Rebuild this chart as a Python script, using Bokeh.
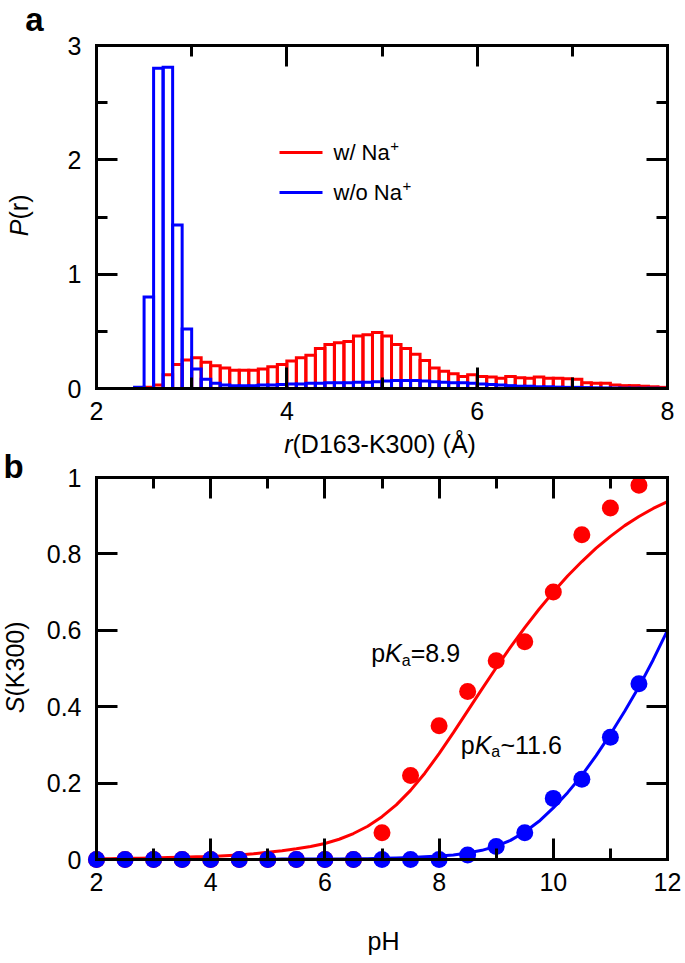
import math
from bokeh.plotting import figure
from bokeh.models import Range1d, LinearAxis, FixedTicker, Label
from bokeh.embed import file_html
from bokeh.resources import INLINE

FONT = "Liberation Sans"
RED = "#ff0000"
BLUE = "#0000ff"

# ---------------- panel a data: P(r) histograms ----------------
r_bin_left = [2.4, 2.5, 2.6, 2.7, 2.8, 2.9, 3.0, 3.1, 3.2, 3.3,
              3.4, 3.5, 3.6, 3.7, 3.8, 3.9, 4.0, 4.1, 4.2, 4.3,
              4.4, 4.5, 4.6, 4.7, 4.8, 4.9, 5.0, 5.1, 5.2, 5.3,
              5.4, 5.5, 5.6, 5.7, 5.8, 5.9, 6.0, 6.1, 6.2, 6.3,
              6.4, 6.5, 6.6, 6.7, 6.8, 6.9, 7.0, 7.1, 7.2, 7.3,
              7.4, 7.5, 7.6, 7.7, 7.8, 7.9]
r_bin_width = 0.1
p_with_na = [0.00, 0.01, 0.03, 0.12, 0.21, 0.25, 0.27, 0.23, 0.20, 0.18,
             0.16, 0.16, 0.16, 0.17, 0.19, 0.21, 0.24, 0.27, 0.29, 0.35,
             0.385, 0.40, 0.41, 0.46, 0.47, 0.49, 0.46, 0.385, 0.35, 0.30,
             0.245, 0.18, 0.15, 0.13, 0.105, 0.12, 0.105, 0.10, 0.09, 0.105,
             0.095, 0.09, 0.10, 0.09, 0.09, 0.085, 0.08, 0.05, 0.045, 0.045,
             0.03, 0.025, 0.025, 0.02, 0.015, 0.01]
p_without_na = [0.01, 0.80, 2.80, 2.81, 1.43, 0.52, 0.17, 0.08, 0.045, 0.03,
                0.025, 0.025, 0.025, 0.03, 0.03, 0.035, 0.04, 0.04, 0.045, 0.045,
                0.05, 0.05, 0.05, 0.055, 0.055, 0.06, 0.065, 0.07, 0.07, 0.07,
                0.065, 0.06, 0.055, 0.05, 0.05, 0.045, 0.04, 0.035, 0.03, 0.025,
                0.02, 0.02, 0.015, 0.015, 0.012, 0.01, 0.01, 0.008, 0.006, 0.005,
                0.004, 0.003, 0.003, 0.002, 0.002, 0.001]
a_xticks = [2, 4, 6, 8]
a_xminor = [3, 5, 7]
a_xlabels = ["2", "4", "6", "8"]
a_yticks = [0, 1, 2, 3]
a_yminor = [0.5, 1.5, 2.5]
a_ylabels = ["0", "1", "2", "3"]
legend_labels = ["w/ Na", "w/o Na"]
legend_sup = "+"

# ---------------- panel b data: S(K300) vs pH ----------------
ph_points = [2.0, 2.5, 3.0, 3.5, 4.0, 4.5, 5.0, 5.5, 6.0, 6.5,
             7.0, 7.5, 8.0, 8.5, 9.0, 9.5, 10.0, 10.5, 11.0, 11.5]
s_with_na = [0, 0, 0, 0, 0, 0, 0, 0, 0, 0,
             0.07, 0.22, 0.35, 0.44, 0.52, 0.57, 0.70, 0.85, 0.92, 0.98]
s_without_na = [0, 0, 0, 0, 0, 0, 0, 0, 0, 0,
                0, 0, 0, 0.012, 0.034, 0.07, 0.16, 0.21, 0.32, 0.46]
ph_curve = [2.0, 2.25, 2.5, 2.75, 3.0, 3.25, 3.5, 3.75, 4.0, 4.25,
            4.5, 4.75, 5.0, 5.25, 5.5, 5.75, 6.0, 6.25, 6.5, 6.75,
            7.0, 7.25, 7.5, 7.75, 8.0, 8.25, 8.5, 8.75, 9.0, 9.25,
            9.5, 9.75, 10.0, 10.25, 10.5, 10.75, 11.0, 11.25, 11.5, 11.75, 12.0]
s_fit_with_na = [0.002, 0.002, 0.003, 0.003, 0.004, 0.005, 0.006, 0.007, 0.008, 0.010,
                 0.012, 0.015, 0.019, 0.023, 0.028, 0.034, 0.042, 0.053, 0.068, 0.087,
                 0.112, 0.143, 0.181, 0.226, 0.277, 0.332, 0.389, 0.446, 0.502, 0.556,
                 0.607, 0.655, 0.700, 0.742, 0.780, 0.815, 0.846, 0.874, 0.898, 0.919, 0.937]
s_fit_without_na = [0, 0, 0, 0, 0, 0, 0, 0, 0, 0,
                    0, 0, 0, 0.001, 0.001, 0.001, 0.001, 0.001, 0.002, 0.002,
                    0.003, 0.004, 0.005, 0.007, 0.009, 0.012, 0.017, 0.024, 0.035, 0.050,
                    0.072, 0.100, 0.135, 0.175, 0.220, 0.272, 0.328, 0.388, 0.452, 0.523, 0.600]
b_xticks = [2, 4, 6, 8, 10, 12]
b_xminor = [3, 5, 7, 9, 11]
b_xlabels = ["2", "4", "6", "8", "10", "12"]
b_yticks = [0, 0.2, 0.4, 0.6, 0.8, 1]
b_ylabels = ["0", "0.2", "0.4", "0.6", "0.8", "1"]
pka_values = ["=8.9", "~11.6"]

# ---------------- layout (page pixels) ----------------
W = 684
H = 962


def a_x(px):  # panel a: r=2 at px 96, r=8 at px 667
    return 2 + (px - 96) * 6 / 571


def a_y(py):  # panel a: P=0 at py 388, P=3 at py 45
    return (388 - py) * 3 / 343


def b_x(px):  # panel b: pH 2 at px 96, pH 12 at px 667
    return 2 + (px - 96) * 10 / 571


def b_y(py):  # panel b: S=0 at py 859, S=1 at py 477
    return (859 - py) / 382


def style_axis(ax, ticks, minor, labels=None, standoff=8):
    ax.ticker = FixedTicker(ticks=ticks, minor_ticks=minor)
    ax.axis_line_color = "black"
    ax.axis_line_width = 3
    ax.axis_line_cap = "square"
    ax.major_tick_in = 21
    ax.major_tick_out = 0
    ax.minor_tick_in = 11
    ax.minor_tick_out = 0
    ax.major_tick_line_width = 3
    ax.minor_tick_line_width = 3
    ax.major_tick_line_color = "black"
    ax.minor_tick_line_color = "black"
    if labels is not None:
        ax.major_label_overrides = dict(zip(ticks, labels))
        ax.major_label_text_font = FONT
        ax.major_label_text_font_size = "25px"
        ax.major_label_text_color = "black"
        ax.major_label_standoff = standoff
    else:
        ax.major_label_text_font_size = "0px"
        ax.major_label_text_color = None
        ax.major_label_standoff = 0


def lab(p, x, y, text, size=25, style="normal", xo=0, yo=0, align="left",
        baseline="middle", angle=0.0, rn="default"):
    p.add_layout(Label(x=x, y=y, text=text, text_font=FONT,
                       text_font_size=f"{size}px", text_font_style=style,
                       text_color="black", x_offset=xo, y_offset=yo,
                       text_align=align, text_baseline=baseline, angle=angle,
                       x_range_name=rn, y_range_name=rn))


p = figure(width=W, height=H, min_border=0,
           x_range=Range1d(b_x(0), b_x(W)), y_range=Range1d(b_y(H), b_y(0)),
           output_backend="svg", toolbar_location=None,
           x_axis_location=None, y_axis_location=None)
p.extra_x_ranges = {"a": Range1d(a_x(0), a_x(W))}
p.extra_y_ranges = {"a": Range1d(a_y(H), a_y(0))}
p.outline_line_color = None
p.background_fill_color = "white"
p.border_fill_color = "white"
for g in p.grid:
    g.visible = False

# ---------------- panel a ----------------
A = dict(x_range_name="a", y_range_name="a")
r_right = [round(v + r_bin_width, 2) for v in r_bin_left]
p.quad(left=r_bin_left, right=r_right, bottom=0, top=p_with_na,
       fill_color=None, line_color=RED, line_width=3, line_join="miter", **A)
p.quad(left=r_bin_left, right=r_right, bottom=0, top=p_without_na,
       fill_color=None, line_color=BLUE, line_width=3, line_join="miter", **A)

ax = LinearAxis(fixed_location=0, bounds=(2, 8), **A); style_axis(ax, a_xticks, a_xminor, a_xlabels, 13); p.add_layout(ax, "below")
ax = LinearAxis(fixed_location=3, bounds=(2, 8), **A); style_axis(ax, a_xticks, a_xminor); p.add_layout(ax, "above")
ax = LinearAxis(fixed_location=2, bounds=(0, 3), **A); style_axis(ax, a_yticks, a_yminor, a_ylabels, 15); p.add_layout(ax, "left")
ax = LinearAxis(fixed_location=8, bounds=(0, 3), **A); style_axis(ax, a_yticks, a_yminor); p.add_layout(ax, "right")

# legend (manual)
for i, (col, py) in enumerate([(RED, 152), (BLUE, 192)]):
    p.segment(x0=[a_x(279)], x1=[a_x(322)], y0=[a_y(py)], y1=[a_y(py)],
              line_color=col, line_width=3, **A)
    lab(p, a_x(333), a_y(py), legend_labels[i], size=22, rn="a")
    w = (2.556 if i == 0 else 3.112) * 22
    lab(p, a_x(333), a_y(py), legend_sup, size=15, xo=w + 0.5, yo=7, rn="a")

lab(p, a_x(34), a_y(19), "a", size=33, style="bold", align="center", rn="a")
lab(p, a_x(18), a_y(219), "P", style="italic", align="right", angle=math.pi / 2, rn="a")
lab(p, a_x(18), a_y(219), "(r)", align="left", angle=math.pi / 2, rn="a")
lab(p, a_x(292), a_y(443), "r", style="italic", align="right", rn="a")
lab(p, a_x(292), a_y(443), "(D163-K300) (\u00c5)", align="left", rn="a")

# ---------------- panel b ----------------
p.line(ph_curve, s_fit_with_na, line_color=RED, line_width=3)
p.line(ph_curve, s_fit_without_na, line_color=BLUE, line_width=3)
p.scatter(ph_points, s_with_na, size=17, fill_color=RED, line_color=None)
p.scatter(ph_points, s_without_na, size=17, fill_color=BLUE, line_color=None)

ax = LinearAxis(fixed_location=0, bounds=(2, 12)); style_axis(ax, b_xticks, b_xminor, b_xlabels, 13); p.add_layout(ax, "below")
ax = LinearAxis(fixed_location=1, bounds=(2, 12)); style_axis(ax, b_xticks, b_xminor); p.add_layout(ax, "above")
ax = LinearAxis(fixed_location=2, bounds=(0, 1)); style_axis(ax, b_yticks, [], b_ylabels, 15); p.add_layout(ax, "left")
ax = LinearAxis(fixed_location=12, bounds=(0, 1)); style_axis(ax, b_yticks, []); p.add_layout(ax, "right")

lab(p, b_x(13), b_y(466), "b", size=33, style="bold", align="center")
lab(p, b_x(14), b_y(696), "S", style="italic", align="right", angle=math.pi / 2)
lab(p, b_x(14), b_y(696), "(K300)", align="left", angle=math.pi / 2)
lab(p, b_x(383), b_y(940), "pH", align="center")

F = 25
for (x0, y0), txt in zip([(6.81, 0.54), (8.38, 0.30)], pka_values):
    lab(p, x0, y0, "p", size=F)
    lab(p, x0, y0, "K", size=F, style="italic", xo=0.556 * F)
    lab(p, x0, y0, "a", size=int(0.65 * F), xo=(0.556 + 0.667) * F, yo=-0.28 * F)
    lab(p, x0, y0, txt, size=F, xo=(0.556 + 0.667 + 0.556 * 0.65) * F)

open("out.html", "w").write(file_html(p, INLINE))
